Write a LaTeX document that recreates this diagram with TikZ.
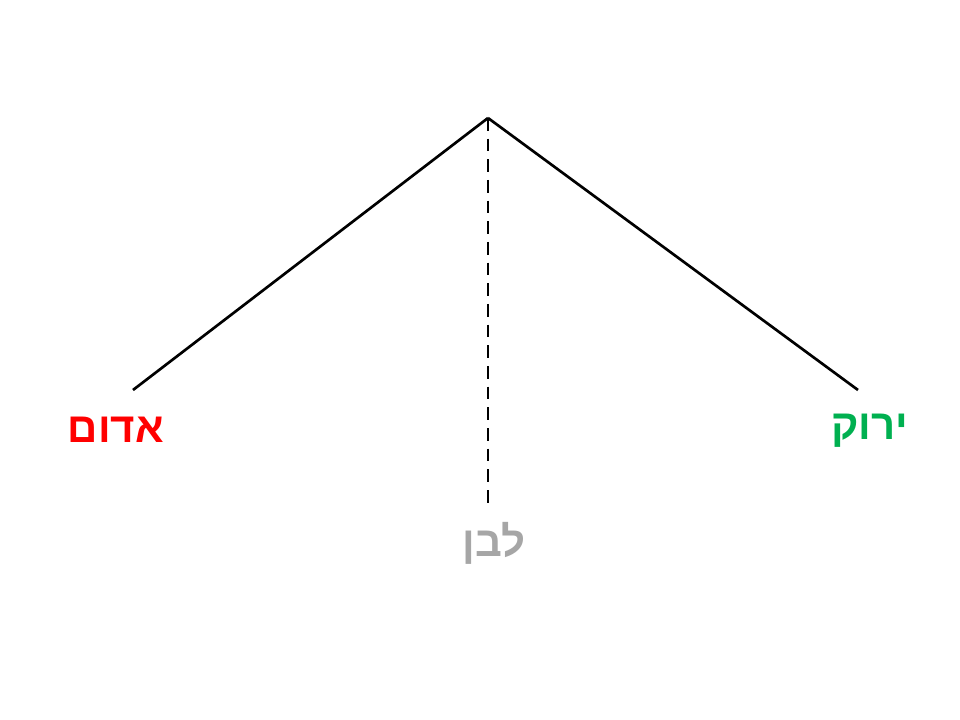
\documentclass[tikz,border=0pt]{standalone}
\usepackage{fontspec}
\newfontfamily\hebfont[Script=Hebrew]{Liberation Sans}
\TeXXeTstate=1
\definecolor{adom}{RGB}{255,0,0}
\definecolor{yarok}{RGB}{0,176,80}
\definecolor{lavan}{RGB}{166,166,166}

\begin{document}
\begin{tikzpicture}[x=0.75pt,y=-0.75pt,
        leg/.style={line width=2pt},
        tag/.style={font=\hebfont\bfseries\fontsize{31.5}{36}\selectfont,inner sep=0pt}]
            \useasboundingbox (0,0) rectangle (960,720);
            \coordinate (apex) at (488,118);
            \coordinate (redend) at (133,390);
            \coordinate (greenend) at (858,390);
            \coordinate (whiteend) at (488,505);
            \draw[leg] (apex)--(redend);
            \draw[leg] (apex)--(greenend);
            \draw[leg,dash pattern=on 9.5pt off 6pt] (apex)--(whiteend);
            \node[tag,text=adom] (red) at (116,430) {\beginR אדום\endR};
            \node[tag,text=yarok] (green) at (870,431) {\beginR ירוק\endR};
            \node[tag,text=lavan] (white) at (494,543) {\beginR לבן\endR};
        \end{tikzpicture}
\end{document}
